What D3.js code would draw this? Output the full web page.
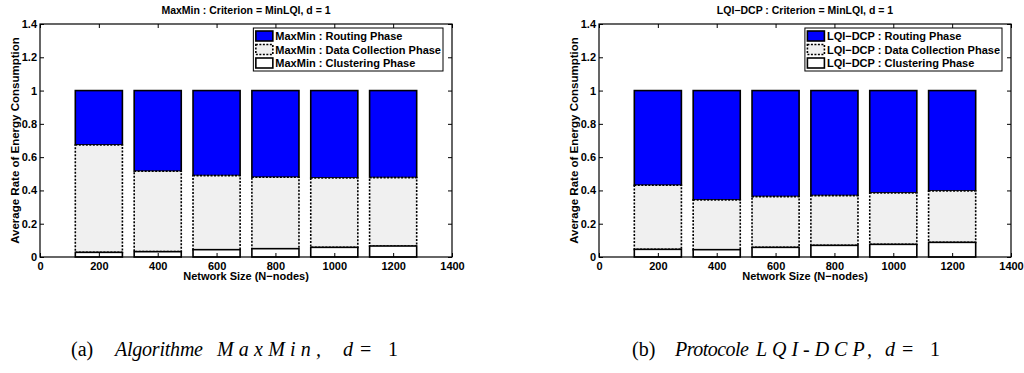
<!DOCTYPE html>
<html>
<head>
<meta charset="utf-8">
<script src="https://cdn.jsdelivr.net/npm/d3@7"></script>
<style>
  body { margin: 0; background: #fff; }
  svg { display: block; }
  .axis text { font-family: Arial, "Liberation Sans", sans-serif; font-weight: bold; font-size: 11px; fill: #000; }
  .axis line { stroke: #000; }
  .caption { font-family: "Liberation Serif", "Times New Roman", serif; font-size: 20px; fill: #000; }
</style>
</head>
<body>
<svg id="chart" width="1024" height="373"></svg>
<script>
// network sizes (x categories)
const sizes = [200, 400, 600, 800, 1000, 1200]
const xTicks = [0, 200, 400, 600, 800, 1000, 1200, 1400]
const yTicks = [0, 0.2, 0.4, 0.6, 0.8, 1, 1.2, 1.4]

// MaxMin phases (share of energy, stacked bottom -> top)
const maxminClustering = [0.028, 0.032, 0.044, 0.050, 0.058, 0.066]
const maxminDataCollection = [0.645, 0.483, 0.445, 0.429, 0.417, 0.411]
const maxminRouting = [0.327, 0.485, 0.511, 0.521, 0.525, 0.523]

// LQI-DCP phases
const lqiClustering = [0.046, 0.044, 0.058, 0.070, 0.076, 0.088]
const lqiDataCollection = [0.385, 0.299, 0.305, 0.299, 0.309, 0.309]
const lqiRouting = [0.569, 0.657, 0.637, 0.631, 0.615, 0.603]

const svg = d3.select('#chart')
const font = 'Arial, "Liberation Sans", sans-serif'

const phaseStyle = {
  routing: { fill: '#0000ff', dash: null },
  data: { fill: '#f0f0f0', dash: '2,1.5' },
  clustering: { fill: '#ffffff', dash: null }
}

/**
 * Draws one stacked bar panel
 */
function drawPanel (left, name, clustering, dataCollection, routing) {
  const width = 412
  const top = 24
  const height = 233

  const g = svg.append('g').attr('transform', `translate(${left},${top})`)

  const x = d3.scaleLinear().domain([0, 1400]).range([0, width])
  const y = d3.scaleLinear().domain([0, 1.4]).range([height, 0])

  const rows = sizes.map((s, i) => ({
    size: s, clustering: clustering[i], data: dataCollection[i], routing: routing[i]
  }))
  // draw order: routing first, then data, clustering last (as in the picture)
  const stacked = d3.stack().keys(['clustering', 'data', 'routing'])(rows)
  const barW = x(160) - x(0)

  ;['routing', 'data', 'clustering'].forEach(key => {
    const layer = stacked.find(s => s.key === key)
    g.append('g').selectAll('rect')
      .data(layer)
      .enter()
      .append('rect')
      .attr('x', d => x(d.data.size) - barW / 2)
      .attr('y', d => y(d[1]))
      .attr('width', barW)
      .attr('height', d => y(d[0]) - y(d[1]))
      .attr('fill', phaseStyle[key].fill)
      .attr('stroke', '#000')
      .attr('stroke-width', 1.6)
      .attr('stroke-dasharray', phaseStyle[key].dash)
  })

  // axes, ticks pointing inward like matlab
  g.append('g').attr('class', 'axis')
    .attr('transform', `translate(0,${height})`)
    .call(d3.axisBottom(x).tickValues(xTicks).tickSizeInner(-4).tickSizeOuter(0).tickPadding(5).tickFormat(d3.format('d')))
    .select('.domain').remove()
  g.append('g').attr('class', 'axis')
    .call(d3.axisTop(x).tickValues(xTicks).tickSizeInner(-4).tickSizeOuter(0).tickFormat(''))
    .select('.domain').remove()
  g.append('g').attr('class', 'axis')
    .call(d3.axisLeft(y).tickValues(yTicks).tickSizeInner(-4).tickSizeOuter(0).tickPadding(3).tickFormat(d3.format('~g')))
    .select('.domain').remove()
  g.append('g').attr('class', 'axis')
    .attr('transform', `translate(${width},0)`)
    .call(d3.axisRight(y).tickValues(yTicks).tickSizeInner(-4).tickSizeOuter(0).tickFormat(''))
    .select('.domain').remove()

  g.append('rect')
    .attr('width', width).attr('height', height)
    .attr('fill', 'none').attr('stroke', '#000').attr('stroke-width', 1.2)

  // title and labels
  g.append('text')
    .attr('x', width / 2).attr('y', -10)
    .attr('text-anchor', 'middle')
    .style('font-family', font).style('font-weight', 'bold').style('font-size', '10.5px')
    .text(`${name} : Criterion = MinLQI, d = 1`)

  g.append('text')
    .attr('x', width / 2).attr('y', height + 23)
    .attr('text-anchor', 'middle')
    .style('font-family', font).style('font-weight', 'bold').style('font-size', '11px')
    .text('Network Size (N\u2212nodes)')

  g.append('text')
    .attr('transform', `translate(${-21},${height / 2}) rotate(-90)`)
    .attr('text-anchor', 'middle')
    .style('font-family', font).style('font-weight', 'bold').style('font-size', '11.5px')
    .text('Average Rate of Energy Consumption')

  // legend
  const legendItems = [
    { key: 'routing', label: `${name} : Routing Phase` },
    { key: 'data', label: `${name} : Data Collection Phase` },
    { key: 'clustering', label: `${name} : Clustering Phase` }
  ]
  const lg = g.append('g')
  const box = lg.append('rect')
    .attr('fill', '#fff').attr('stroke', '#000').attr('stroke-width', 1)
  let maxLen = 0
  legendItems.forEach((item, i) => {
    const cy = 8 + i * 13.5
    lg.append('rect')
      .attr('x', 2.5).attr('y', cy - 5).attr('width', 17).attr('height', 10)
      .attr('fill', phaseStyle[item.key].fill)
      .attr('stroke', '#000').attr('stroke-width', 1.6)
      .attr('stroke-dasharray', phaseStyle[item.key].dash)
    const t = lg.append('text')
      .attr('x', 22).attr('y', cy + 4)
      .style('font-family', font).style('font-weight', 'bold').style('font-size', '11px')
      .text(item.label)
    maxLen = Math.max(maxLen, t.node().getComputedTextLength())
  })
  const boxW = maxLen + 24
  box.attr('width', boxW).attr('height', 43)
  lg.attr('transform', `translate(${width - 9 - boxW},4)`)
}

drawPanel(40, 'MaxMin', maxminClustering, maxminDataCollection, maxminRouting)
drawPanel(599, 'LQI\u2212DCP', lqiClustering, lqiDataCollection, lqiRouting)

// subfigure captions: each piece placed at x, math words spread to width w
function caption (pieces) {
  const t = svg.append('text').attr('class', 'caption').attr('y', 356)
  pieces.forEach(p => {
    const s = t.append('tspan')
      .attr('x', p.x)
      .style('font-style', p.italic ? 'italic' : 'normal')
      .text(p.text)
    if (p.w) s.attr('textLength', p.w).attr('lengthAdjust', 'spacing')
  })
}
caption([
  { text: '(a)', x: 71 },
  { text: 'Algorithme', x: 115, w: 88, italic: true },
  { text: 'MaxMin,', x: 217, w: 104, italic: true },
  { text: 'd', x: 343, italic: true },
  { text: '=', x: 360 },
  { text: '1', x: 388 }
])
caption([
  { text: '(b)', x: 632 },
  { text: 'Protocole', x: 675, w: 74, italic: true },
  { text: 'LQI-DCP,', x: 756, w: 116, italic: true },
  { text: 'd', x: 885, italic: true },
  { text: '=', x: 902 },
  { text: '1', x: 930 }
])
</script>
</body>
</html>
